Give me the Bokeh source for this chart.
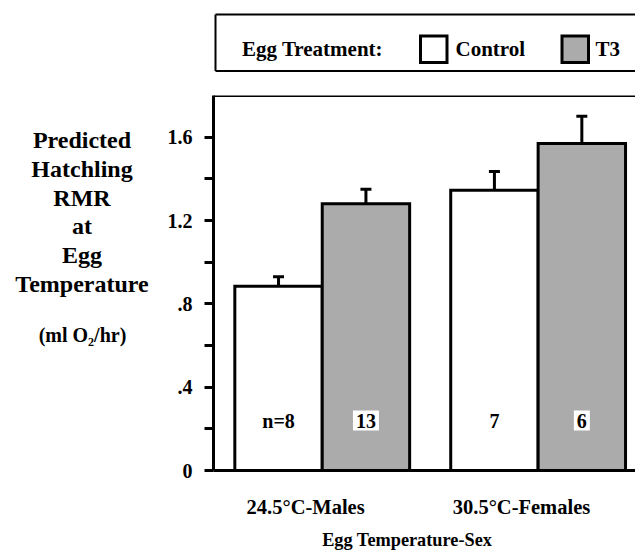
from bokeh.plotting import figure
from bokeh.layouts import column, row
from bokeh.models import ColumnDataSource, FixedTicker, Span, Whisker, TeeHead
from bokeh.core.properties import value
from bokeh.embed import file_html
from bokeh.resources import INLINE

# ---------------- data ----------------
groups = ["24.5°C-Males", "30.5°C-Females"]
treatments = ["Control", "T3"]
control_mean = [0.885, 1.345]
control_se = [0.045, 0.09]
t3_mean = [1.28, 1.57]
t3_se = [0.07, 0.13]
control_n = ["n=8", "7"]
t3_n = ["13", "6"]
y_ticks = [0, 0.4, 0.8, 1.2, 1.6]
y_tick_labels = ["0", ".4", ".8", "1.2", "1.6"]
y_minor_ticks = [0.2, 0.6, 1.0, 1.4]
y_title_lines = ["Predicted", "Hatchling", "RMR", "at", "Egg", "Temperature"]
y_units = "(ml O\u2082/hr)"
x_title = "Egg Temperature-Sex"
legend_title = "Egg Treatment:"

# ---------------- style / layout ----------------
FONT = "Liberation Serif"
GRAY = "#ababab"
BAR_W = 1.0
GROUP_STEP = 2.47
X_START, X_END = 0.256, 5.084
Y_END = 1.8
PAGE_W = 635
TOP_H, MID_H, BOT_H = 90, 436, 26
LEFT_W = 160
MID_BT, MID_BB = 5, 56          # main chart top / bottom borders
FRAME_TOP = TOP_H + MID_BT      # page y of the chart frame top
BL = 7                          # baseline correction for rendered text


def blank(width, height, top=0, bottom=0):
    f = figure(width=width, height=height, x_range=(0, width),
               y_range=(height - top - bottom, 0),
               output_backend="svg", toolbar_location=None,
               x_axis_type=None, y_axis_type=None, min_border=0,
               min_border_top=top, min_border_bottom=bottom)
    f.outline_line_color = None
    f.grid.visible = False
    f.background_fill_color = "white"
    f.border_fill_color = "white"
    return f


def txt(f, xs, ys, texts, size, align):
    f.text(x=xs, y=ys, text=texts, text_font=value(FONT), text_font_style="bold",
           text_font_size=size, text_color="black", text_align=align,
           text_baseline="alphabetic")


# ---------------- legend strip ----------------
leg = blank(PAGE_W, TOP_H)
leg.segment(x0=[215, 215, 215], y0=[14, 70.5, 14],
            x1=[PAGE_W + 20, PAGE_W + 20, 215], y1=[14, 70.5, 70.5],
            line_color="black", line_width=2)
leg.quad(left=[420, 561.5], right=[446.5, 588], top=35.5, bottom=62,
         fill_color=["white", GRAY], line_color="black", line_width=3,
         line_join="miter")
txt(leg, [241.5, 455, 595], [55 - BL] * 3, [legend_title] + treatments, "21px", "left")

# ---------------- y title strip ----------------
yt = blank(LEFT_W, MID_H, MID_BT, MID_BB)
txt(yt, [81.5] * len(y_title_lines),
    [146.7 - FRAME_TOP - BL + i * 28.7 for i in range(len(y_title_lines))],
    y_title_lines, "24px", "center")
txt(yt, [82], [341 - FRAME_TOP - BL], [y_units], "20px", "center")

# ---------------- main chart ----------------
group_x = [1.5 + i * GROUP_STEP for i in range(len(groups))]
ctrl_x = [g - BAR_W / 2 for g in group_x]
t3_x = [g + BAR_W / 2 for g in group_x]

src_c = ColumnDataSource(dict(x=ctrl_x, top=control_mean,
                              err=[m + s for m, s in zip(control_mean, control_se)],
                              n=control_n, ny=[0.24] * len(groups)))
src_t = ColumnDataSource(dict(x=t3_x, top=t3_mean,
                              err=[m + s for m, s in zip(t3_mean, t3_se)],
                              n=t3_n, ny=[0.24] * len(groups)))

p = figure(width=PAGE_W - LEFT_W, height=MID_H, x_range=(X_START, X_END),
           y_range=(0, Y_END), output_backend="svg", toolbar_location=None,
           min_border_left=213 - LEFT_W, min_border_right=0,
           min_border_top=MID_BT, min_border_bottom=MID_BB)
p.outline_line_color = None
p.grid.visible = False
p.background_fill_color = "white"
p.border_fill_color = "white"

for src in (src_c, src_t):
    p.add_layout(Whisker(source=src, base="x", lower="top", upper="err",
                         dimension="height", line_color="black", line_width=3,
                         lower_head=None,
                         upper_head=TeeHead(size=11, line_color="black", line_width=3)))

p.vbar(x="x", top="top", width=BAR_W, source=src_c, fill_color="white",
       line_color="black", line_width=3, line_join="miter")
p.vbar(x="x", top="top", width=BAR_W, source=src_t, fill_color=GRAY,
       line_color="black", line_width=3, line_join="miter")

for src in (src_c, src_t):
    p.text(x="x", y="ny", text="n", source=src, text_font=value(FONT),
           text_font_style="bold", text_font_size="20px", text_color="black",
           text_align="center", text_baseline="middle",
           background_fill_color="white", padding=3)

p.add_layout(Span(location=Y_END, dimension="width", line_color="black", line_width=3))

ya = p.yaxis[0]
ya.ticker = FixedTicker(ticks=y_ticks, minor_ticks=y_minor_ticks)
ya.major_label_overrides = dict(zip(y_ticks, y_tick_labels))
ya.major_label_text_font = FONT
ya.major_label_text_font_style = "bold"
ya.major_label_text_font_size = "20px"
ya.major_label_text_color = "black"
ya.major_label_standoff = 12
ya.axis_line_width = 3
ya.axis_line_color = "black"
ya.major_tick_out = 9
ya.major_tick_in = 0
ya.minor_tick_out = 9
ya.minor_tick_in = 0
ya.major_tick_line_width = 3
ya.minor_tick_line_width = 3
ya.major_tick_line_color = "black"
ya.minor_tick_line_color = "black"

xa = p.xaxis[0]
label_ticks = [g - 0.19 for g in group_x]
xa.ticker = FixedTicker(ticks=label_ticks, minor_ticks=[])
xa.major_label_overrides = dict(zip(label_ticks, groups))
xa.major_label_text_font = FONT
xa.major_label_text_font_style = "bold"
xa.major_label_text_font_size = "20.5px"
xa.major_label_text_color = "black"
xa.major_label_standoff = 19
xa.major_tick_line_color = None
xa.minor_tick_line_color = None
xa.axis_line_width = 3
xa.axis_line_color = "black"

# ---------------- x title strip ----------------
xt = blank(PAGE_W, BOT_H)
txt(xt, [406.7], [546 - (TOP_H + MID_H) - BL], [x_title], "18.3px", "center")

layout = column(leg, row(yt, p, spacing=0), xt, spacing=0)
open("out.html", "w").write(file_html(layout, INLINE))
